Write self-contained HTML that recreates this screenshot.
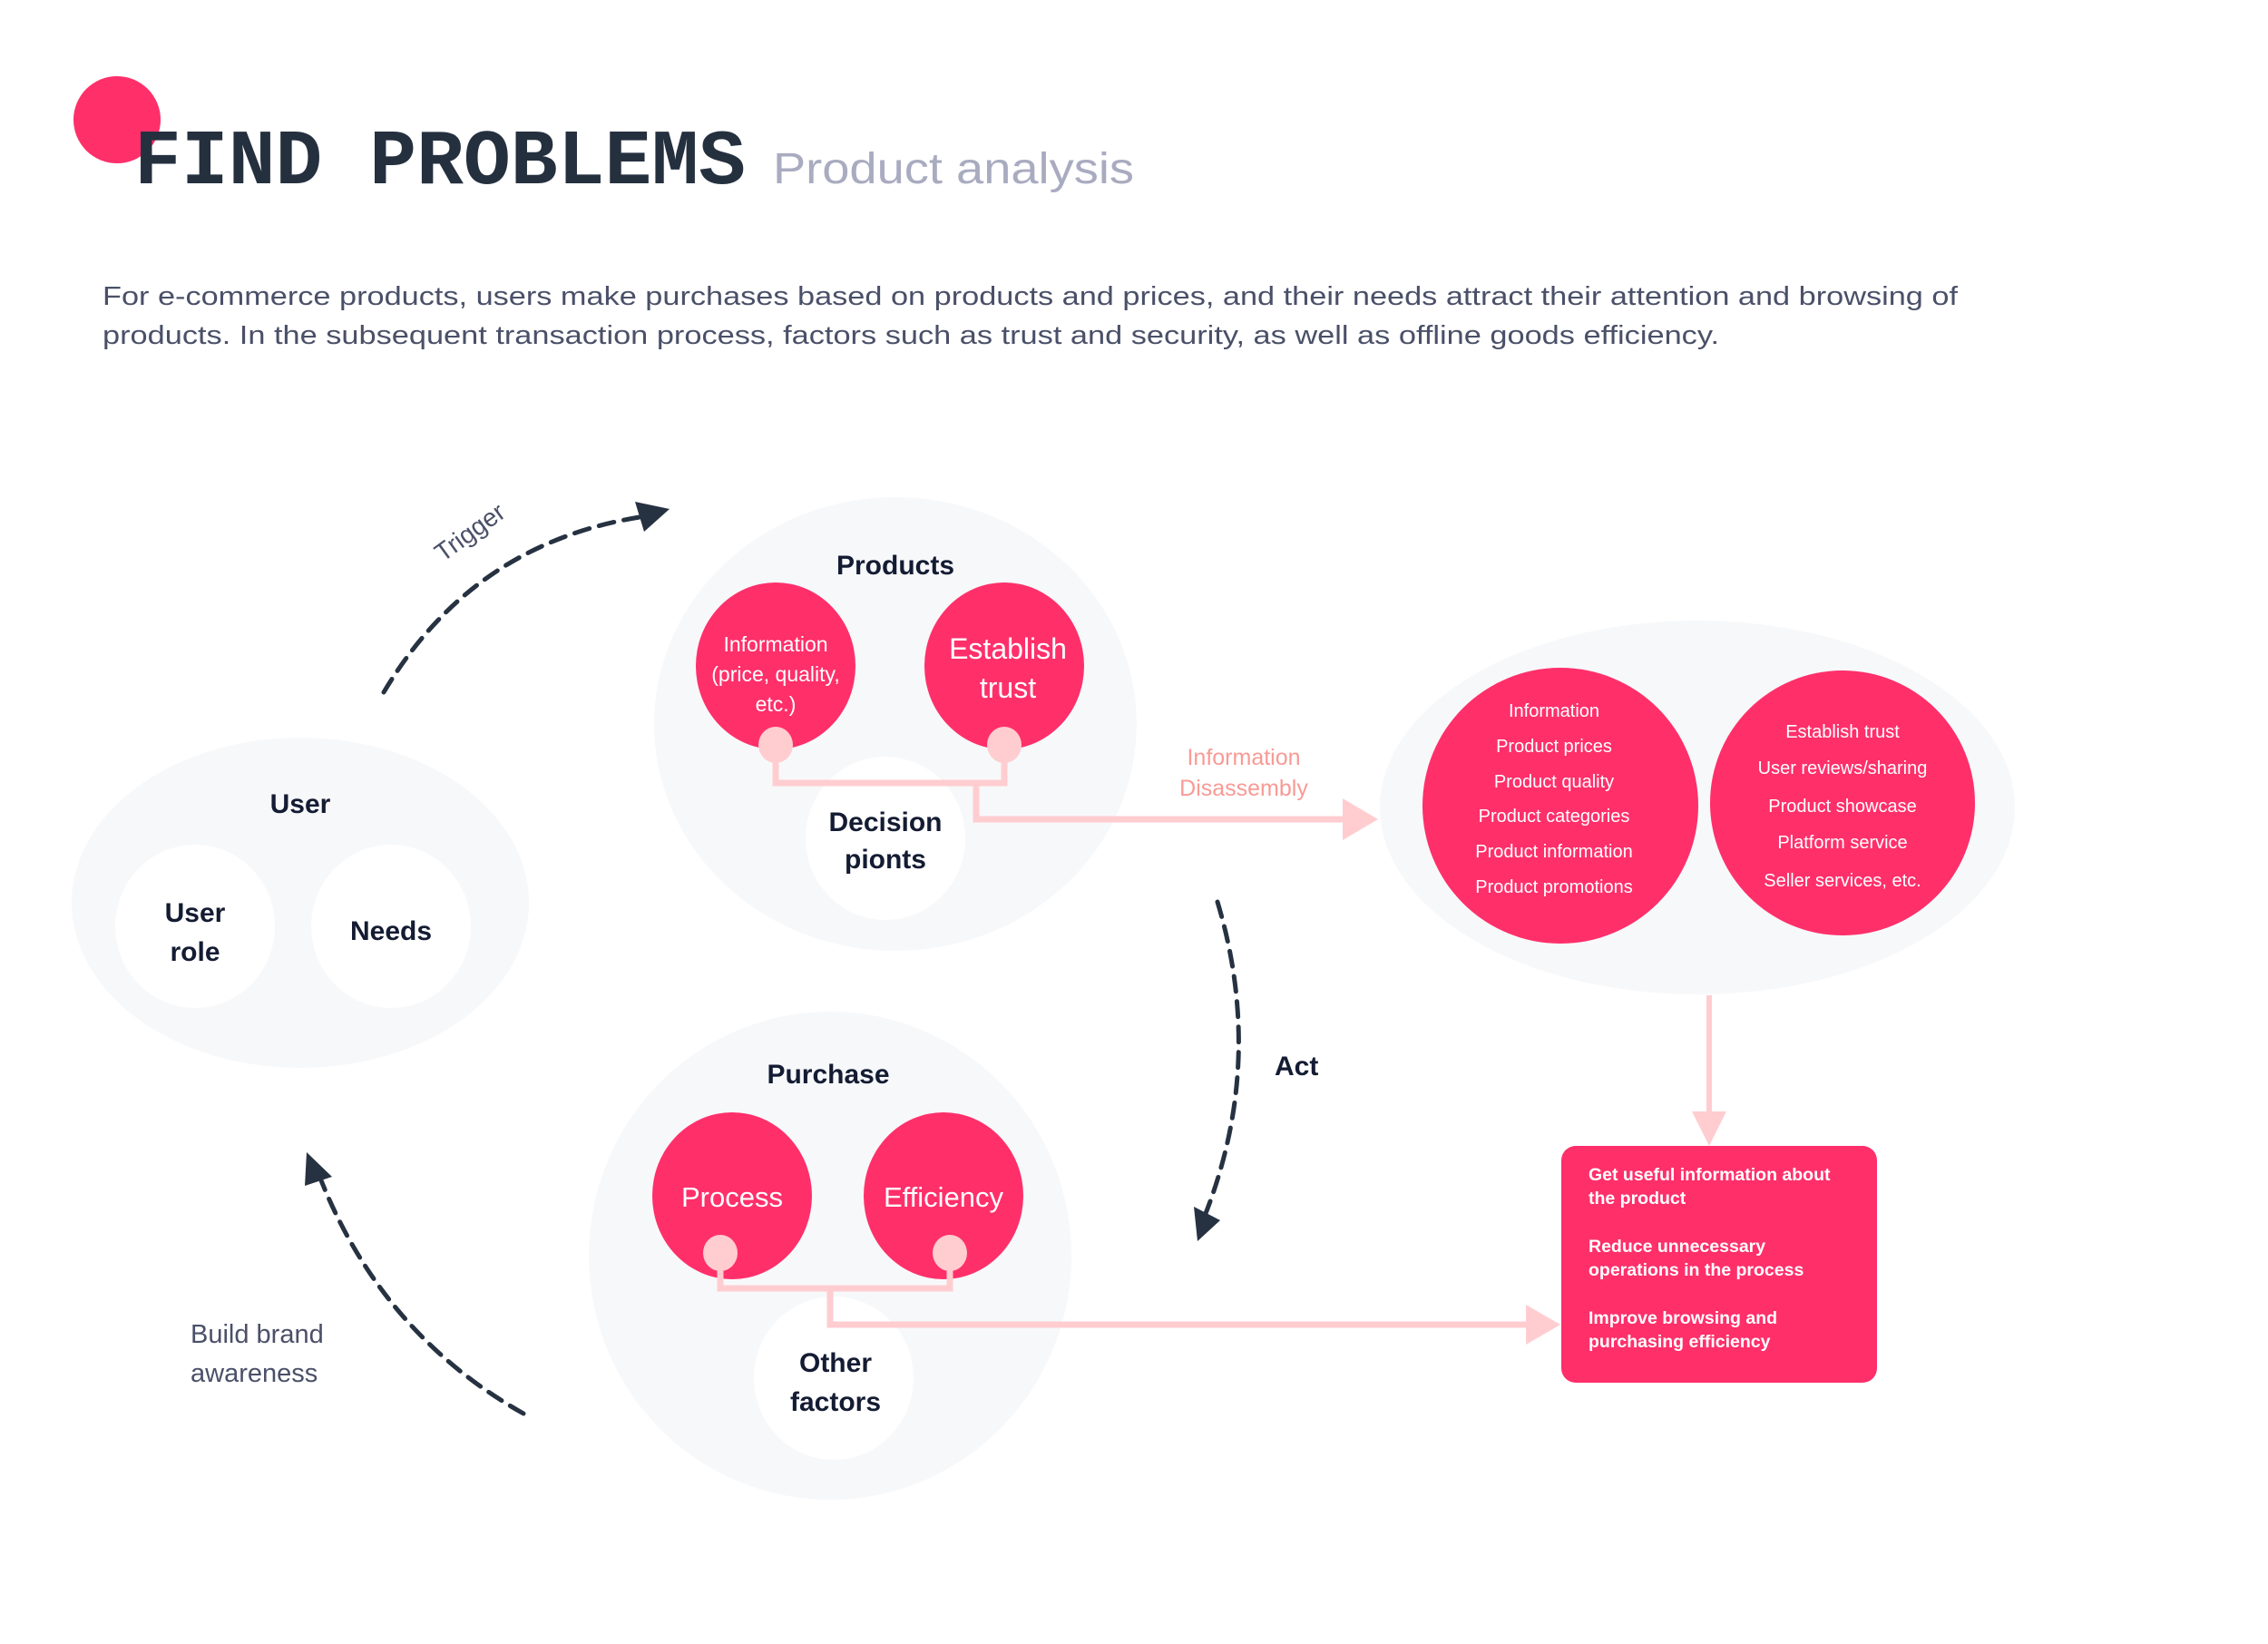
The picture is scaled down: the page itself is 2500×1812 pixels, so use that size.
<!DOCTYPE html>
<html><head><meta charset="utf-8"><style>
html,body{margin:0;padding:0;background:#fff;}
svg{display:block;}
</style></head><body>
<svg width="2500" height="1812" viewBox="0 0 2500 1812" xmlns="http://www.w3.org/2000/svg" font-family="Liberation Sans, sans-serif">
<rect width="2500" height="1812" fill="#fff"/>
<!-- header -->
<circle cx="129" cy="132" r="48" fill="#ff2f6a"/>
<text x="148" y="202" style="font-family:'Liberation Mono',monospace" font-weight="bold" font-size="86" fill="#25303f" textLength="674" lengthAdjust="spacingAndGlyphs">FIND PROBLEMS</text>
<text x="852" y="202" font-size="48" fill="#a9abc0" textLength="398" lengthAdjust="spacingAndGlyphs">Product analysis</text>
<text x="113" y="336" font-size="29" fill="#4a5068" textLength="2045" lengthAdjust="spacingAndGlyphs">For e-commerce products, users make purchases based on products and prices, and their needs attract their attention and browsing of</text>
<text x="113" y="379" font-size="29" fill="#4a5068" textLength="1782" lengthAdjust="spacingAndGlyphs">products. In the subsequent transaction process, factors such as trust and security, as well as offline goods efficiency.</text>

<!-- user -->
<ellipse cx="331" cy="995" rx="252" ry="182" fill="#f7f8fa"/>
<ellipse cx="215" cy="1021" rx="88" ry="90" fill="#fff"/>
<ellipse cx="431" cy="1021" rx="88" ry="90" fill="#fff"/>
<g font-size="30" fill="#141c33" text-anchor="middle" font-weight="bold">
<text x="331" y="896">User</text>
<text x="215" y="1016">User</text>
<text x="215" y="1059">role</text>
<text x="431" y="1036">Needs</text>
</g>

<!-- products -->
<ellipse cx="987" cy="798" rx="266" ry="250" fill="#f7f8fa"/>
<ellipse cx="976" cy="924" rx="88" ry="90" fill="#fff"/>
<ellipse cx="855" cy="734" rx="88" ry="92" fill="#ff2f6a"/>
<ellipse cx="1107" cy="734" rx="88" ry="92" fill="#ff2f6a"/>
<polyline points="855,821 855,863 1107,863 1107,821" fill="none" stroke="#ffcdd0" stroke-width="7"/>
<polyline points="1076,863 1076,903 1485,903" fill="none" stroke="#ffcdd0" stroke-width="7"/>
<polygon points="1480,880 1519,903 1480,926" fill="#ffcdd0"/>
<ellipse cx="855" cy="821" rx="19" ry="20" fill="#ffcdd0"/>
<ellipse cx="1107" cy="821" rx="19" ry="20" fill="#ffcdd0"/>
<g fill="#fff" text-anchor="middle">
<text x="855" y="718" font-size="23">Information</text>
<text x="855" y="751" font-size="23">(price, quality,</text>
<text x="855" y="784" font-size="23">etc.)</text>
<text x="1111" y="726" font-size="32">Establish</text>
<text x="1111" y="769" font-size="32">trust</text>
</g>
<g font-size="30" fill="#141c33" text-anchor="middle" font-weight="bold">
<text x="987" y="633">Products</text>
<text x="976" y="916">Decision</text>
<text x="976" y="957">pionts</text>
</g>
<g font-size="25" fill="#f89a95" text-anchor="middle">
<text x="1371" y="843">Information</text>
<text x="1371" y="877">Disassembly</text>
</g>

<!-- right ellipse -->
<ellipse cx="1871" cy="890" rx="350" ry="206" fill="#f7f8fa"/>
<ellipse cx="1720" cy="888" rx="152" ry="152" fill="#ff2f6a"/>
<ellipse cx="2031" cy="885" rx="146" ry="146" fill="#ff2f6a"/>
<g fill="#fff" text-anchor="middle" font-size="20">
<text x="1713" y="790">Information</text>
<text x="1713" y="829">Product prices</text>
<text x="1713" y="868">Product quality</text>
<text x="1713" y="906">Product categories</text>
<text x="1713" y="945">Product information</text>
<text x="1713" y="984">Product promotions</text>
<text x="2031" y="813">Establish trust</text>
<text x="2031" y="853">User reviews/sharing</text>
<text x="2031" y="895">Product showcase</text>
<text x="2031" y="935">Platform service</text>
<text x="2031" y="977">Seller services, etc.</text>
</g>
<line x1="1884" y1="1097" x2="1884" y2="1230" stroke="#ffcdd0" stroke-width="6"/>
<polygon points="1865,1225 1884,1263 1903,1225" fill="#ffcdd0"/>

<!-- red box -->
<rect x="1721" y="1263" width="348" height="261" rx="16" fill="#ff2f6a"/>
<g fill="#fff" font-size="19.5" font-weight="bold">
<text x="1751" y="1301">Get useful information about</text>
<text x="1751" y="1327">the product</text>
<text x="1751" y="1380">Reduce unnecessary</text>
<text x="1751" y="1406">operations in the process</text>
<text x="1751" y="1459">Improve browsing and</text>
<text x="1751" y="1485">purchasing efficiency</text>
</g>

<!-- purchase -->
<ellipse cx="915" cy="1384" rx="266" ry="269" fill="#f7f8fa"/>
<ellipse cx="919" cy="1519" rx="88" ry="90" fill="#fff"/>
<ellipse cx="807" cy="1318" rx="88" ry="92" fill="#ff2f6a"/>
<ellipse cx="1040" cy="1318" rx="88" ry="92" fill="#ff2f6a"/>
<polyline points="794,1381 794,1420 1047,1420 1047,1381" fill="none" stroke="#ffcdd0" stroke-width="7"/>
<polyline points="915,1420 915,1460 1685,1460" fill="none" stroke="#ffcdd0" stroke-width="7"/>
<polygon points="1682,1438 1720,1460 1682,1482" fill="#ffcdd0"/>
<ellipse cx="794" cy="1381" rx="19" ry="20" fill="#ffcdd0"/>
<ellipse cx="1047" cy="1381" rx="19" ry="20" fill="#ffcdd0"/>
<g fill="#fff" text-anchor="middle" font-size="31">
<text x="807" y="1330">Process</text>
<text x="1040" y="1330">Efficiency</text>
</g>
<g font-size="30" fill="#141c33" text-anchor="middle" font-weight="bold">
<text x="913" y="1194">Purchase</text>
<text x="921" y="1512">Other</text>
<text x="921" y="1555">factors</text>
</g>

<!-- dashed arrows -->
<g fill="none" stroke="#263241" stroke-width="5" stroke-dasharray="17 11" stroke-linecap="round">
<path d="M423,763 Q520,600 705,570"/>
<path d="M1342,994 Q1395,1170 1328,1340"/>
<path d="M577,1558 Q420,1470 352,1296"/>
</g>
<polygon points="738,561 700,553 710,586" fill="#263241"/>
<polygon points="1320,1368 1316,1330 1345,1345" fill="#263241"/>
<polygon points="338,1270 336,1307 366,1297" fill="#263241"/>
<text x="0" y="0" font-size="28" fill="#4a5068" transform="translate(488,620) rotate(-36)">Trigger</text>
<text x="1405" y="1185" font-size="30" fill="#141c33" font-weight="bold">Act</text>
<text x="210" y="1480" font-size="29" fill="#4a5068">Build brand</text>
<text x="210" y="1523" font-size="29" fill="#4a5068">awareness</text>
</svg>
</body></html>
